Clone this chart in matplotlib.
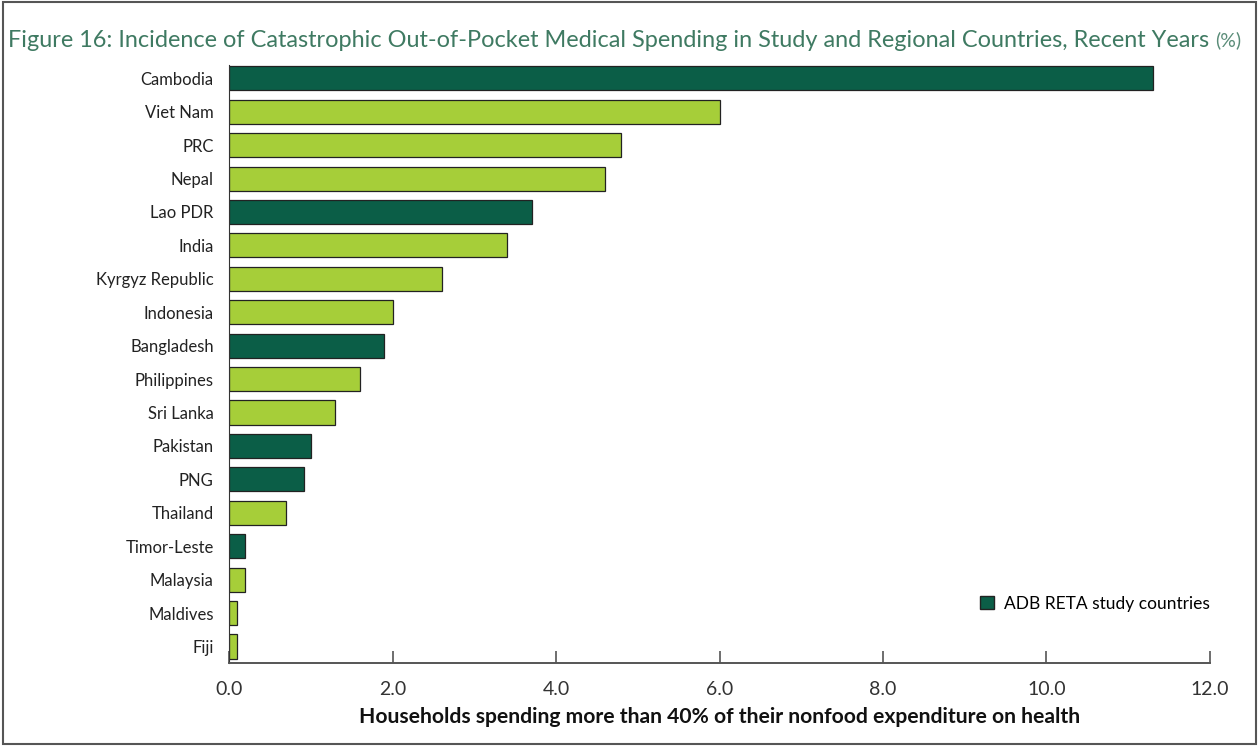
import matplotlib.pyplot as plt
from matplotlib.patches import Rectangle, Patch

plt.rcParams['font.family'] = ['Lato', 'DejaVu Sans']

countries = ['Cambodia', 'Viet Nam', 'PRC', 'Nepal', 'Lao PDR', 'India', 'Kyrgyz Republic',
             'Indonesia', 'Bangladesh', 'Philippines', 'Sri Lanka', 'Pakistan', 'PNG',
             'Thailand', 'Timor-Leste', 'Malaysia', 'Maldives', 'Fiji']
values = [11.3, 6.0, 4.8, 4.6, 3.7, 3.4, 2.6, 2.0, 1.9, 1.6, 1.3, 1.0, 0.92, 0.7, 0.2, 0.2, 0.1, 0.1]
study = [True, False, False, False, True, False, False, False, True, False, False, True, True,
         False, True, False, False, False]
xticks = [0, 2, 4, 6, 8, 10, 12]

dark = '#0b5e47'
light = '#a6ce39'

fig = plt.figure(figsize=(12.59, 7.46), dpi=100)
ax = fig.add_axes([0.182, 0.111, 0.779, 0.802])

n = len(countries)
ypos = [n - 1 - i for i in range(n)]
colors = [dark if s else light for s in study]
ax.barh(ypos, values, height=0.72, color=colors, edgecolor='#222222', linewidth=0.9)

ax.set_yticks(ypos)
ax.set_yticklabels(countries, fontsize=12, color='#222222')
ax.tick_params(axis='y', length=0, pad=11)
ax.set_xlim(0, 12)
ax.set_ylim(-0.5, n - 0.6)
ax.set_xticks(xticks)
ax.set_xticklabels([f'{t:.1f}' for t in xticks], fontsize=14, color='#333333')
ax.tick_params(axis='x', direction='in', length=9, width=1.2, color='#555555', pad=13)

for s in ['top', 'right']:
    ax.spines[s].set_visible(False)
ax.spines['left'].set_color('#333333')
ax.spines['bottom'].set_color('#555555')
ax.spines['bottom'].set_linewidth(1.4)

ax.set_xlabel('Households spending more than 40% of their nonfood expenditure on health',
              fontsize=15.2, fontweight='bold', color='#111111', labelpad=6)

ax.legend(handles=[Patch(facecolor=dark, edgecolor='#222222', label='ADB RETA study countries')],
          loc='lower right', bbox_to_anchor=(1.016, 0.06), frameon=False, fontsize=12.5,
          handlelength=0.8, handleheight=0.8, handletextpad=0.6)

title = fig.text(0.006, 0.946, 'Figure 16: Incidence of Catastrophic Out-of-Pocket Medical Spending in Study and Regional Countries, Recent Years',
                 fontsize=16.9, color='#3f7a62', va='center', ha='left')
ax.annotate('(%)', xy=(1, 0.5), xycoords=title, xytext=(5, 0), textcoords='offset points',
            fontsize=14, color='#5a8c78', va='center', ha='left', annotation_clip=False)

fig.patches.append(Rectangle((0.002, 0.003), 0.996, 0.994, transform=fig.transFigure,
                             fill=False, edgecolor='#555555', linewidth=1.5))

fig.savefig('out.png', dpi=100)
